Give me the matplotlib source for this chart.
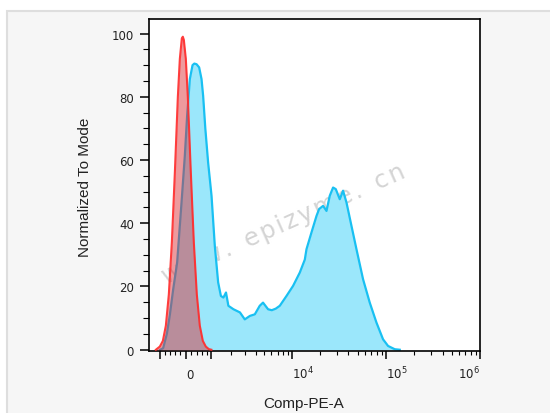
import numpy as np
import matplotlib
matplotlib.use('Agg')
import matplotlib.pyplot as plt
from matplotlib.patches import Rectangle
from matplotlib.ticker import FixedLocator, FixedFormatter, NullFormatter

# ---------------- data (fluorescence units, normalized to mode) ----------------
red_x = [-1200, -1020, -888, -763, -642, -523, -408, -295, -221, -147, -110, -73,
         0, 73, 184, 295, 408, 523, 642, 763, 888, 1000]
red_y = [0, 1, 2.8, 7.6, 17.5, 34, 56, 80, 92, 98.5, 99, 98,
         92, 80, 56, 34, 17.5, 7.6, 2.8, 1, 0.2, 0]

blue_x = [-1000, -876, -722, -602, -473, -321, -158, -37, 48, 147, 247, 314, 397,
          497, 590, 654, 742, 859, 1006, 1155, 1313, 1450, 1582, 1722, 1858, 2172,
          2618, 2994, 3438, 3915, 4449, 4840, 5508, 6048, 6689, 7392, 8731, 10282,
          12132, 13727, 14310, 16179, 18288, 19509, 21509, 23378, 25340, 27471,
          29350, 32367, 35090, 38124, 43079, 48699, 57231, 67425, 79425, 93330,
          105495, 124245, 140400]
blue_y = [0, 0.5, 5, 11, 19, 27.6, 46.6, 61.3, 74, 85.6, 90, 90.5, 90.3,
          89.3, 85.6, 80.3, 70, 59.2, 48.7, 32.8, 21.3, 17, 16.5, 18.1, 13.9, 12.8,
          11.8, 9.6, 10.7, 11.2, 13.9, 14.9, 12.8, 12.5, 13, 13.9, 17, 20.2,
          24.4, 28.5, 31.8, 37.1, 42.3, 44.5, 45.5, 43.9, 48.7, 51.3,
          50.8, 47.6, 50.3, 46.6, 39.2, 31.8, 22.3, 14.9, 8.6, 3.3,
          1.2, 0.16, 0]

x_major = [-1000, 0, 1000, 1e4, 1e5, 1e6]
x_major_labels = ['', '0', '', r'$\mathdefault{10^{4}}$', r'$\mathdefault{10^{5}}$',
                  r'$\mathdefault{10^{6}}$']
y_major = [0, 20, 40, 60, 80, 100]

x_label = 'Comp-PE-A'
y_label = 'Normalized To Mode'
watermark = 'w\u200aw\u200aw\u200a.  e\u200ap\u200ai\u200az\u200ay\u200am\u200ae\u200a.  c\u200an'

# ---------------- figure ----------------
W, H = 550, 414
fig = plt.figure(figsize=(W / 100, H / 100), dpi=100)
fig.patch.set_facecolor('white')
fig.patches.append(Rectangle((7 / W, -0.01), 1.0, 1 - 12 / H + 0.01,
                             transform=fig.transFigure, facecolor='#f6f6f6',
                             edgecolor='#dedede', linewidth=1.5, zorder=-5))

ax = fig.add_axes([149 / W, 1 - 352 / H, 331 / W, 332 / H])
ax.set_zorder(1)
ax.set_facecolor('white')

C = 1500.0
ax.set_xscale('function', functions=(lambda v: np.arcsinh(np.asarray(v) / C),
                                     lambda v: C * np.sinh(np.asarray(v))))
ax.set_xlim(-1542, 1.0e6)
ax.set_ylim(-0.4, 104.6)

# watermark (under data)
ax.text(0.405, 0.385, watermark, transform=ax.transAxes, fontsize=17.5,
        color='#d4d4d4', rotation=24, rotation_mode='anchor', ha='center',
        va='center', family='DejaVu Sans', zorder=0.5)

# blue sample
ax.fill_between(blue_x, blue_y, 0, color=(155 / 255, 231 / 255, 251 / 255),
                linewidth=0, zorder=1)
ax.plot(blue_x, blue_y, color=(25 / 255, 192 / 255, 242 / 255), lw=1.6, zorder=2)
# red control
ax.fill_between(red_x, red_y, 0, color=(219 / 255, 40 / 255, 48 / 255), alpha=0.47,
                linewidth=0, zorder=3)
ax.plot(red_x, red_y, color=(255 / 255, 45 / 255, 45 / 255), lw=1.5, zorder=4,
        alpha=0.92)

# ---------------- ticks ----------------
minor_x = ([-800, -600, -400, -200, 200, 400, 600, 800] +
           [k * 1e3 for k in range(2, 10)] + [k * 1e4 for k in range(2, 10)] +
           [k * 1e5 for k in range(2, 10)])
ax.xaxis.set_major_locator(FixedLocator(x_major))
ax.xaxis.set_major_formatter(FixedFormatter(x_major_labels))
ax.xaxis.set_minor_locator(FixedLocator(minor_x))
ax.xaxis.set_minor_formatter(NullFormatter())

ax.yaxis.set_major_locator(FixedLocator(y_major))
ax.yaxis.set_minor_locator(FixedLocator([v for v in range(0, 105, 5) if v % 20]))

ax.tick_params(axis='x', which='major', direction='out', length=5.8, width=1.1,
               pad=14, labelsize=8.5, labelcolor='#222222')
ax.tick_params(axis='x', which='minor', direction='out', length=3.2, width=0.8)
ax.tick_params(axis='y', which='major', direction='out', length=6.6, width=1.1,
               pad=4.3, labelsize=8.5, labelcolor='#222222')
ax.tick_params(axis='y', which='minor', direction='out', length=4.3, width=0.8)

for lab in ax.get_xticklabels():
    lab.set_va('baseline')
    lab.set_family('DejaVu Sans')
labs = ax.get_xticklabels()
aligns = ['center', 'left', 'center', 'left', 'left', 'right']
for lab, a in zip(labs, aligns):
    lab.set_ha(a)
for lab in ax.get_yticklabels():
    lab.set_family('DejaVu Sans')

for s in ax.spines.values():
    s.set_linewidth(1.2)
    s.set_color('black')

ax.set_xlabel(x_label, fontsize=11, family='Liberation Sans', color='#222222')
ax.set_ylabel(y_label, fontsize=11, family='Liberation Sans', color='#222222')
ax.xaxis.set_label_coords(0.468, -0.157)
ax.yaxis.set_label_coords(-0.192, 0.495)
ax.xaxis.label.set_va('center')
ax.yaxis.label.set_va('center')

fig.savefig('out.png', dpi=100, facecolor='white')
